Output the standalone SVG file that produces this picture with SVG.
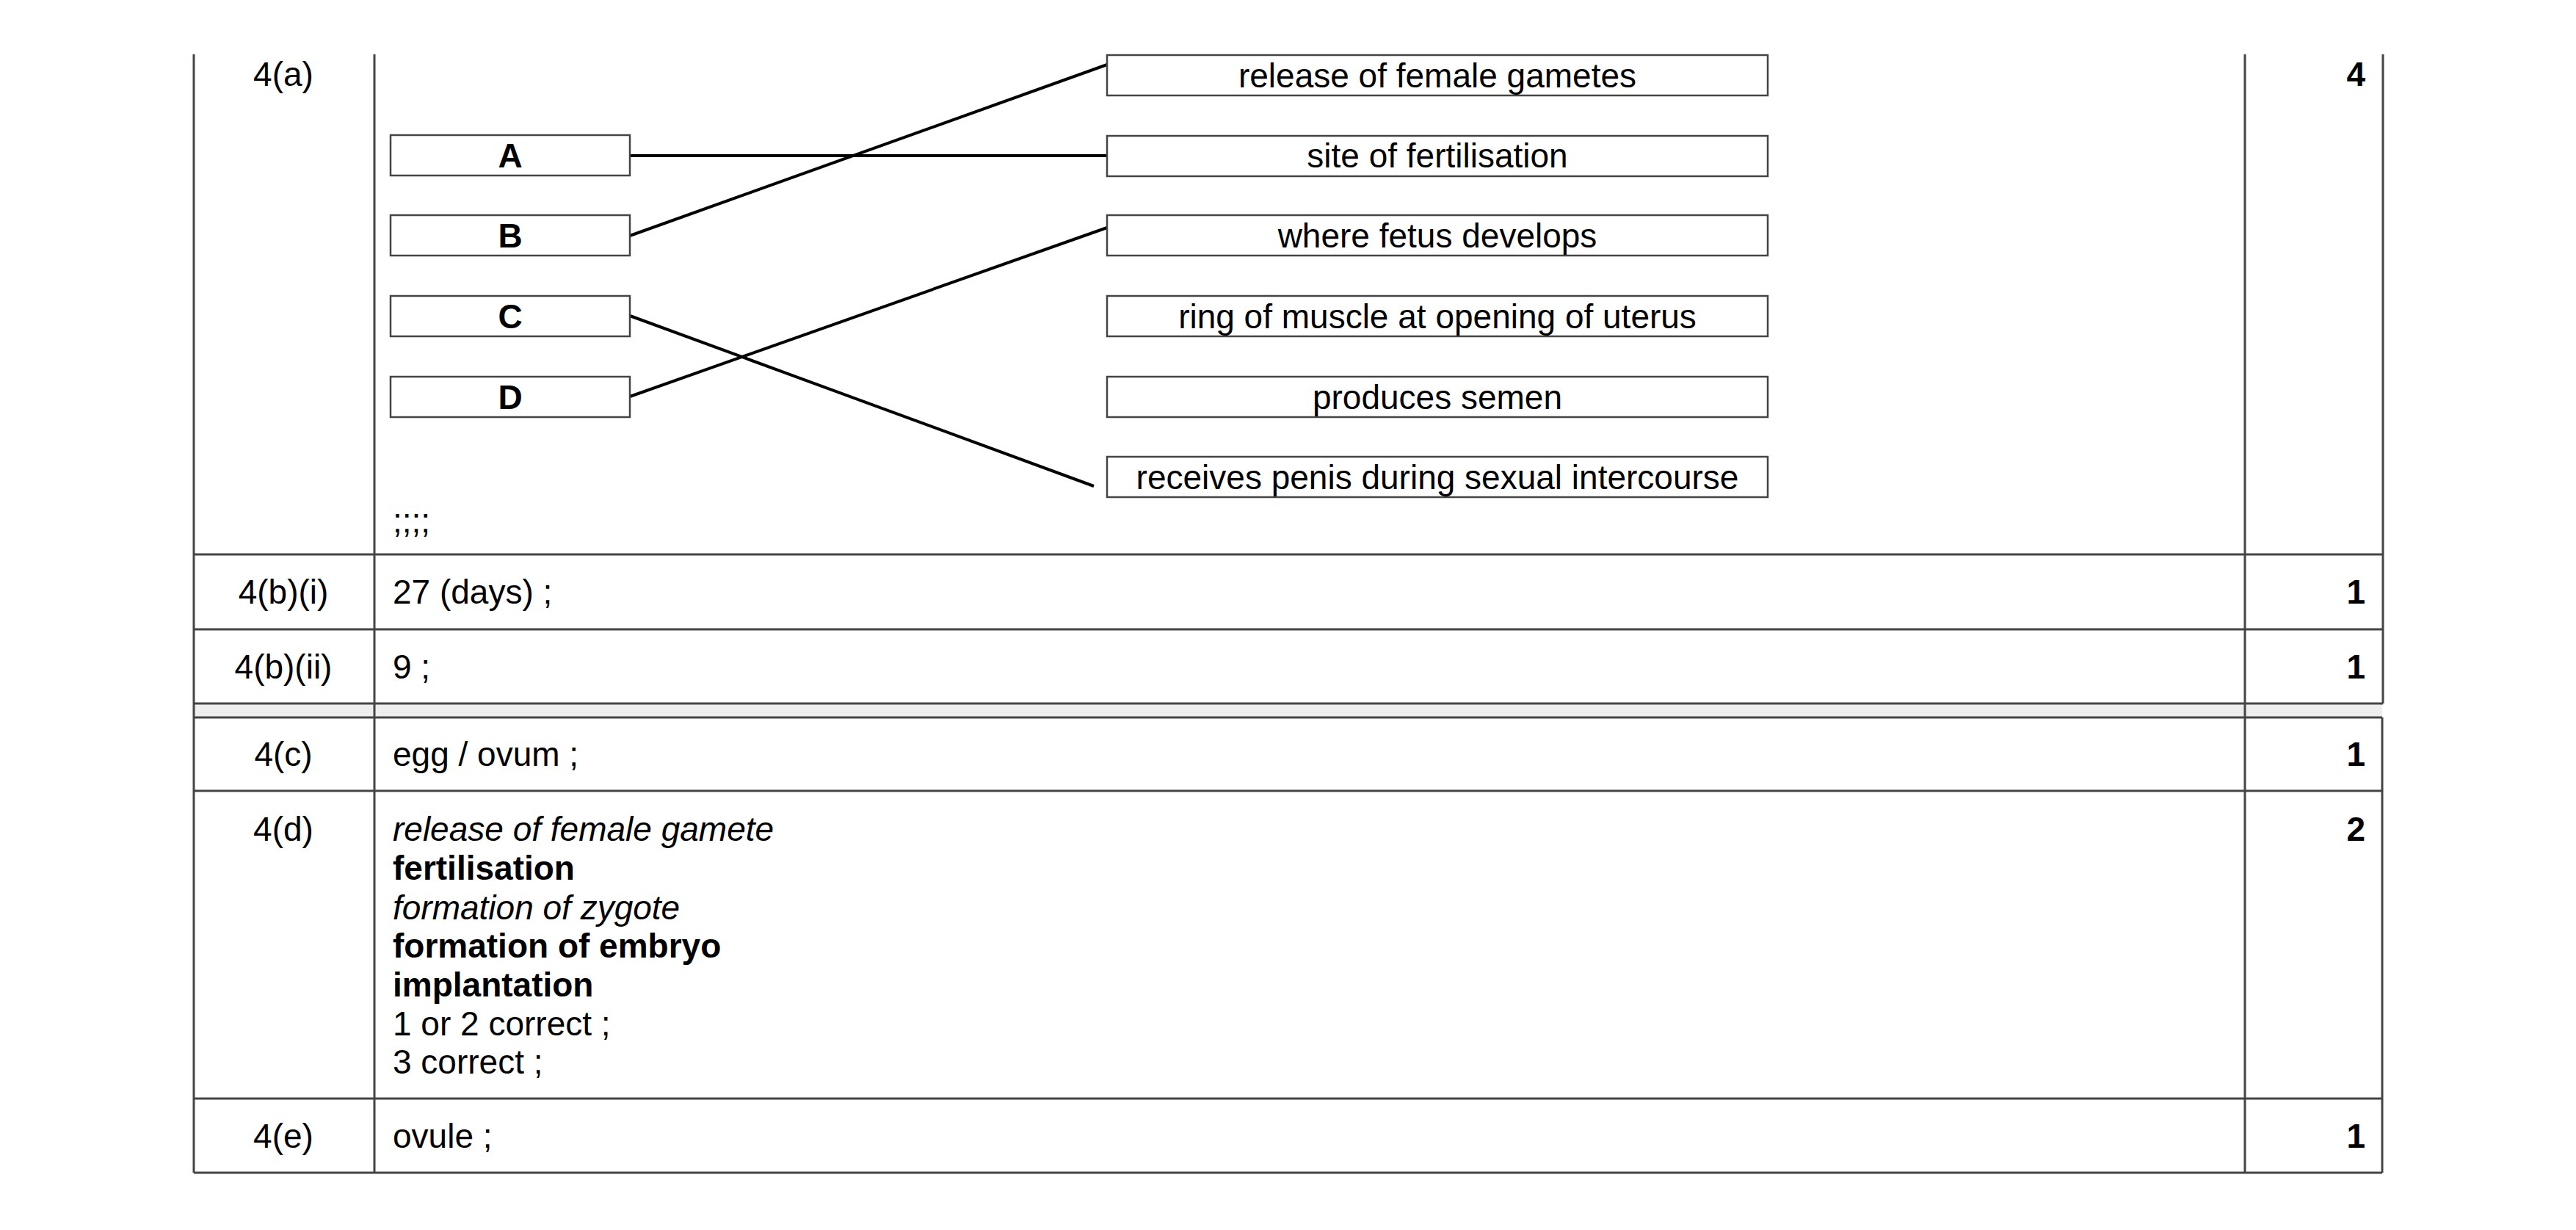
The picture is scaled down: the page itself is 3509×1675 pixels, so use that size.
<svg xmlns="http://www.w3.org/2000/svg" width="3509" height="1675" viewBox="0 0 3509 1675">
<style>
text{font-family:"Liberation Sans",Arial,sans-serif;font-size:46px;fill:#000}
.c{text-anchor:middle}.r{text-anchor:end}.b{font-weight:bold}.i{font-style:italic}
.grid{stroke:#444;stroke-width:3;fill:none}
.box{fill:#fff;stroke:#444;stroke-width:2.5}
.con{stroke:#000;stroke-width:4;fill:none}
</style>
<rect width="3509" height="1675" fill="#fff"/>
<g id="table">
<rect x="264" y="958" width="2981" height="19" fill="#eee"/>
<path class="grid" d="M264 74V1597M510 74V1597M3058 74V1597M3246 74V958M3245 977V1597M264 755H3246M264 857H3246M264 958H3246M264 977H3245M264 1077H3245M264 1496H3245M264 1597H3245"/>
</g>
<g id="labels">
<text class="c" x="386" y="117">4(a)</text>
<text class="r b" x="3222" y="117">4</text>
<text x="535" y="725">;;;;</text>
<text class="c" x="386" y="822">4(b)(i)</text>
<text x="535" y="822">27 (days) ;</text>
<text class="r b" x="3222" y="822">1</text>
<text class="c" x="386" y="924">4(b)(ii)</text>
<text x="535" y="924">9 ;</text>
<text class="r b" x="3222" y="924">1</text>
<text class="c" x="386" y="1043">4(c)</text>
<text x="535" y="1043">egg / ovum ;</text>
<text class="r b" x="3222" y="1043">1</text>
<text class="c" x="386" y="1145">4(d)</text>
<text class="i" x="535" y="1145">release of female gamete</text>
<text class="b" x="535" y="1198">fertilisation</text>
<text class="i" x="535" y="1252">formation of zygote</text>
<text class="b" x="535" y="1304">formation of embryo</text>
<text class="b" x="535" y="1357">implantation</text>
<text x="535" y="1410">1 or 2 correct ;</text>
<text x="535" y="1462">3 correct ;</text>
<text class="r b" x="3222" y="1145">2</text>
<text class="c" x="386" y="1563">4(e)</text>
<text x="535" y="1563">ovule ;</text>
<text class="r b" x="3222" y="1563">1</text>
</g>
<g id="connectors">
<line class="con" x1="858" y1="212" x2="1508" y2="212"/>
<line class="con" x1="858" y1="321" x2="1508" y2="88"/>
<line class="con" x1="858" y1="430" x2="1490" y2="662"/>
<line class="con" x1="858" y1="540" x2="1508" y2="310"/>
</g>
<g id="nodeA"><rect class="box" x="532" y="184" width="326" height="55"/><text class="c b" x="695" y="228">A</text></g>
<g id="nodeB"><rect class="box" x="532" y="293" width="326" height="55"/><text class="c b" x="695" y="337">B</text></g>
<g id="nodeC"><rect class="box" x="532" y="403" width="326" height="55"/><text class="c b" x="695" y="447">C</text></g>
<g id="nodeD"><rect class="box" x="532" y="513" width="326" height="55"/><text class="c b" x="695" y="557">D</text></g>
<g id="r1"><rect class="box" x="1508" y="75" width="900" height="55"/><text class="c" x="1958" y="119">release of female gametes</text></g>
<g id="r2"><rect class="box" x="1508" y="185" width="900" height="55"/><text class="c" x="1958" y="228">site of fertilisation</text></g>
<g id="r3"><rect class="box" x="1508" y="293" width="900" height="55"/><text class="c" x="1958" y="337">where fetus develops</text></g>
<g id="r4"><rect class="box" x="1508" y="403" width="900" height="55"/><text class="c" x="1958" y="447">ring of muscle at opening of uterus</text></g>
<g id="r5"><rect class="box" x="1508" y="513" width="900" height="55"/><text class="c" x="1958" y="557">produces semen</text></g>
<g id="r6"><rect class="box" x="1508" y="622" width="900" height="55"/><text class="c" x="1958" y="666">receives penis during sexual intercourse</text></g>
</svg>
